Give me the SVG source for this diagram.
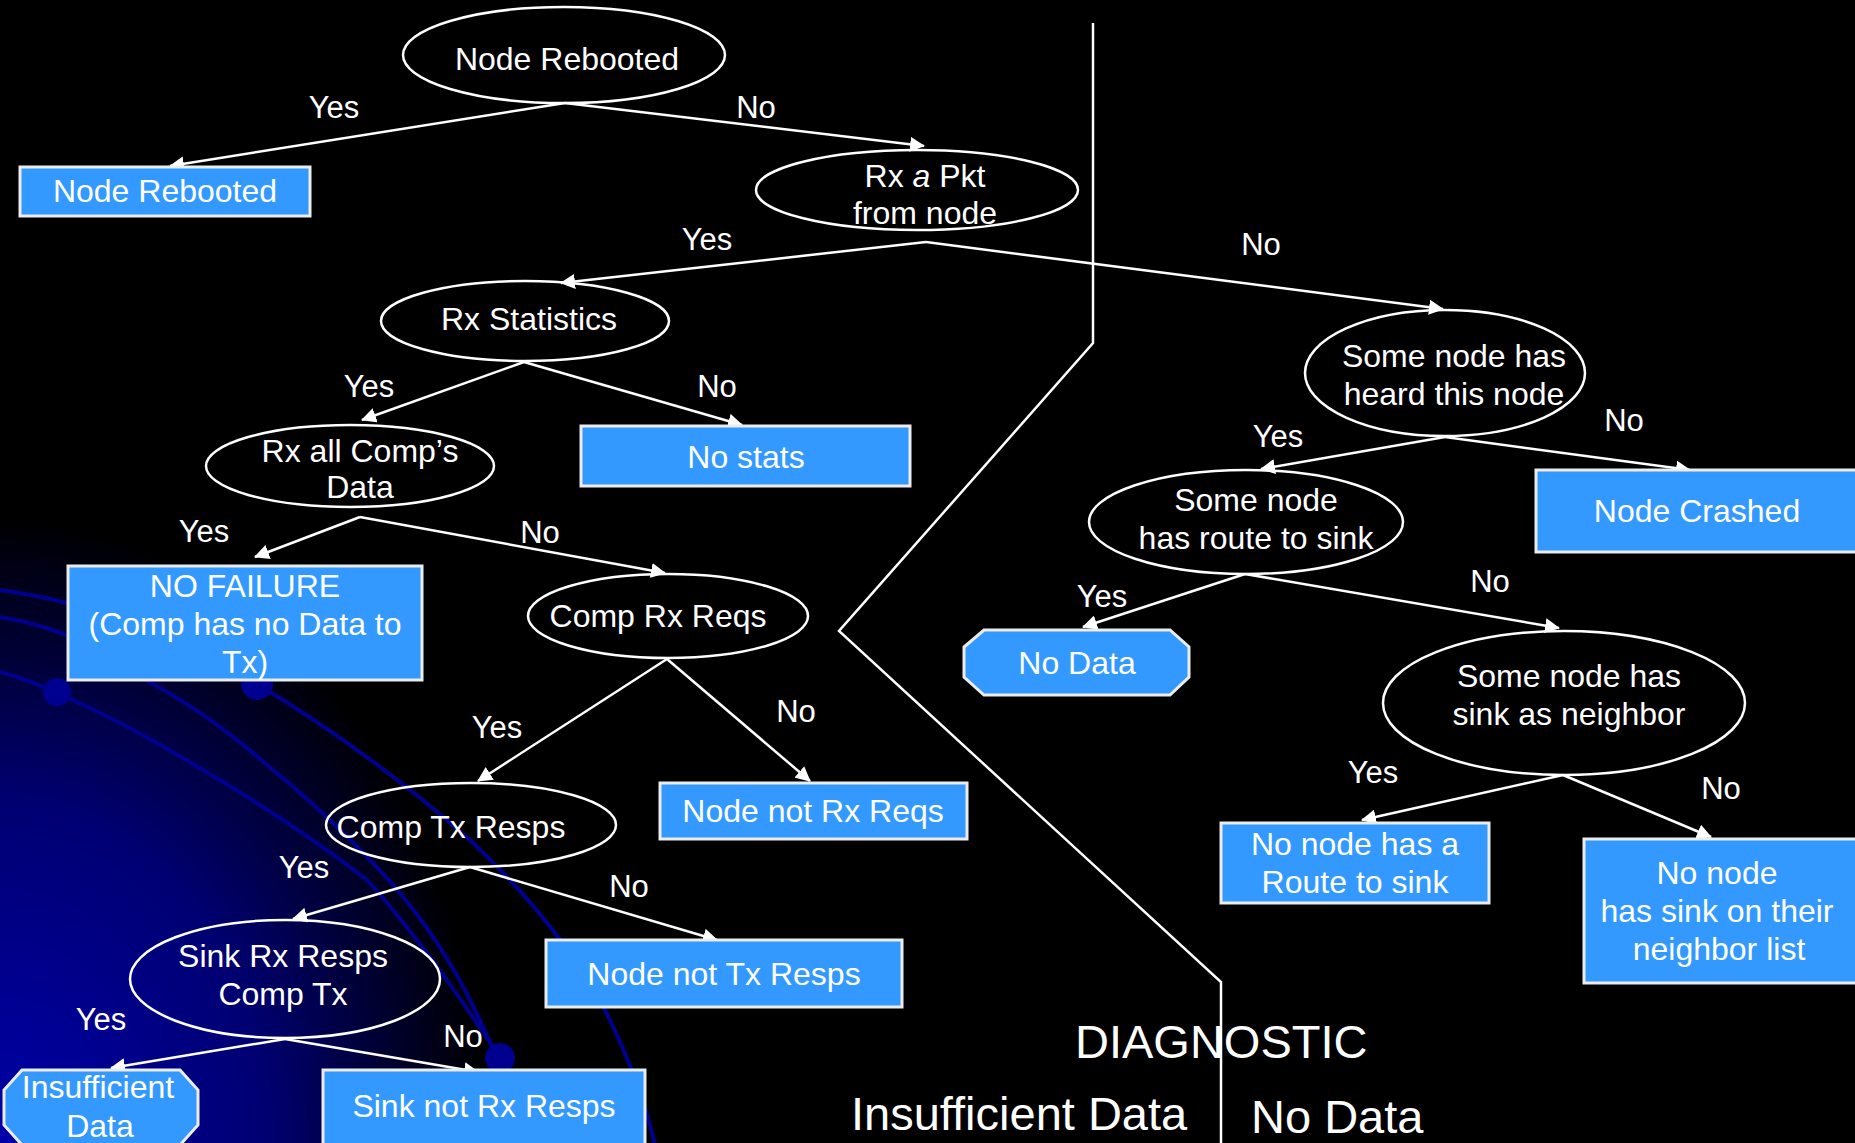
<svg xmlns="http://www.w3.org/2000/svg" width="1855" height="1143" viewBox="0 0 1855 1143">
<defs>
<radialGradient id="bg" gradientUnits="userSpaceOnUse" cx="0" cy="1143" r="680" gradientTransform="translate(0,1143) scale(0.78,1) translate(0,-1143)">
<stop offset="0" stop-color="#0000a8"/>
<stop offset="0.5" stop-color="#000072"/>
<stop offset="0.92" stop-color="#000000"/>
</radialGradient>
<marker id="ah" markerWidth="15" markerHeight="15" refX="14" refY="7.5" orient="auto" markerUnits="userSpaceOnUse">
<path d="M0,0 L15,7.5 L0,15 z" fill="#ffffff"/>
</marker>
<style>
.e{fill:none;stroke:#ffffff;stroke-width:2.5}
.b{fill:#3399ff;stroke:#ececec;stroke-width:3}
.t{font-family:"Liberation Sans",Arial,sans-serif;font-size:32px;fill:#ffffff;text-anchor:middle}
.l{font-family:"Liberation Sans",Arial,sans-serif;font-size:31px;fill:#ffffff;text-anchor:middle}
.big{font-family:"Liberation Sans",Arial,sans-serif;font-size:47px;fill:#ffffff}
.c{fill:none;stroke:#ffffff;stroke-width:2.5;marker-end:url(#ah)}
.deco{fill:none;stroke:#000090;stroke-width:4}
</style>
</defs>
<rect x="0" y="0" width="1855" height="1143" fill="#000000"/>
<rect x="0" y="0" width="1855" height="1143" fill="url(#bg)"/>
<g id="decoration">
<path class="deco" d="M0,590 Q140,610 257,684 Q370,752 470,840 Q560,925 605,1010 Q640,1080 655,1145"/>
<path class="deco" d="M0,617 Q80,630 146,680 Q210,715 261,760 Q330,815 395,887 Q440,940 470,1000 Q485,1030 497,1058"/>
<path class="deco" d="M0,672 Q30,680 57,693 Q120,720 186,760 Q290,820 367,880 Q430,950 500,1058"/>
<circle cx="57" cy="692" r="14" fill="#000090"/>
<circle cx="257" cy="684" r="16" fill="#000090"/>
<circle cx="500" cy="1058" r="15" fill="#000090"/>
</g>
<g id="divider">
<polyline points="1093,23 1093,343 839,631 1221,982 1221,1150" fill="none" stroke="#ffffff" stroke-width="2.5"/>
</g>
<g id="connectors">
<path class="c" d="M565,103 L170,166"/>
<path class="c" d="M565,103 L924,146"/>
<path class="c" d="M926,242 L561,283"/>
<path class="c" d="M926,242 L1443,309"/>
<path class="c" d="M524,362 L362,420"/>
<path class="c" d="M524,362 L742,425"/>
<path class="c" d="M360,517 L255,557"/>
<path class="c" d="M360,517 L665,573"/>
<path class="c" d="M667,659 L478,781"/>
<path class="c" d="M667,659 L810,781"/>
<path class="c" d="M470,867 L293,919"/>
<path class="c" d="M470,867 L717,940"/>
<path class="c" d="M285,1039 L111,1068"/>
<path class="c" d="M285,1039 L478,1072"/>
<path class="c" d="M1445,437 L1261,469"/>
<path class="c" d="M1445,437 L1690,470"/>
<path class="c" d="M1245,574 L1083,627"/>
<path class="c" d="M1245,574 L1559,628"/>
<path class="c" d="M1563,775 L1362,820"/>
<path class="c" d="M1563,775 L1711,837"/>
<text class="l" x="334" y="118">Yes</text>
<text class="l" x="756" y="118">No</text>
<text class="l" x="707" y="250">Yes</text>
<text class="l" x="1261" y="255">No</text>
<text class="l" x="369" y="397">Yes</text>
<text class="l" x="717" y="397">No</text>
<text class="l" x="204" y="542">Yes</text>
<text class="l" x="540" y="543">No</text>
<text class="l" x="497" y="738">Yes</text>
<text class="l" x="796" y="722">No</text>
<text class="l" x="304" y="878">Yes</text>
<text class="l" x="629" y="897">No</text>
<text class="l" x="101" y="1030">Yes</text>
<text class="l" x="463" y="1047">No</text>
<text class="l" x="1278" y="447">Yes</text>
<text class="l" x="1624" y="431">No</text>
<text class="l" x="1102" y="607">Yes</text>
<text class="l" x="1490" y="592">No</text>
<text class="l" x="1373" y="783">Yes</text>
<text class="l" x="1721" y="799">No</text>
</g>
<g id="n-node-rebooted-q">
<ellipse class="e" cx="564" cy="55" rx="161" ry="48"/>
<text class="t" x="567" y="70">Node Rebooted</text>
</g>
<g id="n-node-rebooted">
<rect class="b" x="20" y="167" width="290" height="49"/>
<text class="t" x="165" y="202">Node Rebooted</text>
</g>
<g id="n-rx-pkt">
<ellipse class="e" cx="917" cy="190" rx="161" ry="40"/>
<text class="t" x="925" y="187">Rx <tspan font-style="italic">a</tspan> Pkt</text>
<text class="t" x="925" y="224">from node</text>
</g>
<g id="n-rx-stats">
<ellipse class="e" cx="525" cy="321" rx="144" ry="40"/>
<text class="t" x="529" y="330">Rx Statistics</text>
</g>
<g id="n-heard">
<ellipse class="e" cx="1445" cy="373" rx="140" ry="63"/>
<text class="t" x="1454" y="367">Some node has</text>
<text class="t" x="1454" y="405">heard this node</text>
</g>
<g id="n-no-stats">
<rect class="b" x="581" y="426" width="329" height="60"/>
<text class="t" x="746" y="468">No stats</text>
</g>
<g id="n-rx-all">
<ellipse class="e" cx="350" cy="466" rx="144" ry="41"/>
<text class="t" x="360" y="462">Rx all Comp’s</text>
<text class="t" x="360" y="498">Data</text>
</g>
<g id="n-node-crashed">
<rect class="b" x="1536" y="470" width="330" height="82"/>
<text class="t" x="1697" y="522">Node Crashed</text>
</g>
<g id="n-route">
<ellipse class="e" cx="1246" cy="522" rx="157" ry="52"/>
<text class="t" x="1256" y="511">Some node</text>
<text class="t" x="1256" y="549">has route to sink</text>
</g>
<g id="n-no-data">
<polygon class="b" points="984,630 1170,630 1189,647 1189,677 1170,695 984,695 964,677 964,647"/>
<text class="t" x="1077" y="674">No Data</text>
</g>
<g id="n-no-failure">
<rect class="b" x="68" y="566" width="354" height="114"/>
<text class="t" x="245" y="597">NO FAILURE</text>
<text class="t" x="245" y="635">(Comp has no Data to</text>
<text class="t" x="245" y="673">Tx)</text>
</g>
<g id="n-comp-rx">
<ellipse class="e" cx="668" cy="616" rx="140" ry="42"/>
<text class="t" x="658" y="627">Comp Rx Reqs</text>
</g>
<g id="n-sink-neighbor">
<ellipse class="e" cx="1564" cy="703" rx="181" ry="72"/>
<text class="t" x="1569" y="687">Some node has</text>
<text class="t" x="1569" y="725">sink as neighbor</text>
</g>
<g id="n-not-rx-reqs">
<rect class="b" x="660" y="783" width="307" height="56"/>
<text class="t" x="813" y="822">Node not Rx Reqs</text>
</g>
<g id="n-comp-tx">
<ellipse class="e" cx="471" cy="825" rx="145" ry="42"/>
<text class="t" x="451" y="838">Comp Tx Resps</text>
</g>
<g id="n-no-route">
<rect class="b" x="1221" y="823" width="268" height="80"/>
<text class="t" x="1355" y="855">No node has a</text>
<text class="t" x="1355" y="893">Route to sink</text>
</g>
<g id="n-no-sink-list">
<rect class="b" x="1584" y="839" width="282" height="144"/>
<text class="t" x="1717" y="884">No node</text>
<text class="t" x="1717" y="922">has sink on their</text>
<text class="t" x="1719" y="960">neighbor list</text>
</g>
<g id="n-not-tx-resps">
<rect class="b" x="546" y="940" width="356" height="67"/>
<text class="t" x="724" y="985">Node not Tx Resps</text>
</g>
<g id="n-sink-rx">
<ellipse class="e" cx="285" cy="979" rx="155" ry="59"/>
<text class="t" x="283" y="967">Sink Rx Resps</text>
<text class="t" x="283" y="1005">Comp Tx</text>
</g>
<g id="n-insufficient">
<polygon class="b" points="22,1070 180,1070 198,1090 198,1125 180,1145 22,1145 4,1125 4,1090"/>
<text class="t" x="98" y="1098">Insufficient</text>
<text class="t" x="100" y="1137">Data</text>
</g>
<g id="n-sink-not-rx">
<rect class="b" x="323" y="1070" width="322" height="80"/>
<text class="t" x="484" y="1117">Sink not Rx Resps</text>
</g>
<g id="legend">
<text class="big" x="1075" y="1058">DIAGNOSTIC</text>
<text class="big" x="851" y="1130">Insufficient Data</text>
<text class="big" x="1251" y="1133">No Data</text>
</g>
</svg>
